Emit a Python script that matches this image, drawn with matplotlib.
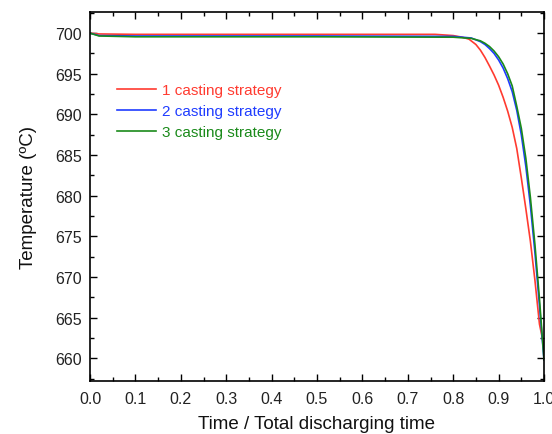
import matplotlib
matplotlib.use("Agg")
import matplotlib.pyplot as plt
from matplotlib.ticker import MultipleLocator

plt.rcParams["font.family"] = ["Liberation Sans", "DejaVu Sans"]

x_red = [0.0, 0.02, 0.1, 0.3, 0.5, 0.7, 0.76, 0.8, 0.82, 0.835, 0.85, 0.86, 0.87, 0.88, 0.89, 0.9,
         0.91, 0.92, 0.93, 0.94, 0.95, 0.96, 0.97, 0.98, 0.99, 1.0]
t_red = [700.0, 699.9, 699.85, 699.85, 699.85, 699.85, 699.85, 699.7, 699.5, 699.25, 698.6, 697.9,
         697.0, 695.95, 694.85, 693.6, 692.1, 690.4, 688.4, 685.8, 682.2, 678.4, 674.4, 669.6, 664.2, 661.5]

x_blue = [0.0, 0.02, 0.1, 0.5, 0.8, 0.84, 0.86, 0.87, 0.88, 0.89, 0.9, 0.91, 0.92, 0.93, 0.94,
          0.95, 0.96, 0.97, 0.98, 0.99, 1.0]
t_blue = [700.0, 699.7, 699.65, 699.65, 699.6, 699.4, 698.95, 698.6, 698.1, 697.5, 696.7, 695.7,
          694.4, 692.8, 690.5, 687.5, 683.6, 678.8, 673.0, 666.5, 659.8]

x_green = [0.0, 0.02, 0.1, 0.5, 0.8, 0.84, 0.86, 0.87, 0.88, 0.89, 0.9, 0.91, 0.92, 0.93, 0.94,
           0.95, 0.96, 0.97, 0.98, 0.99, 1.0]
t_green = [700.0, 699.65, 699.55, 699.55, 699.5, 699.35, 699.05, 698.75, 698.35, 697.8, 697.1, 696.2,
           695.0, 693.5, 691.0, 688.3, 684.6, 679.8, 674.0, 667.3, 659.8]

labels = ["1 casting strategy", "2 casting strategy", "3 casting strategy"]
colors = ["#ff3b30", "#1f3cff", "#1a8a1a"]

fig = plt.figure(figsize=(5.52, 4.35), dpi=100)
ax = fig.add_axes([90/552, (435-382)/435, 454/552, 369/435])

ax.plot(x_red, t_red, color=colors[0], lw=1.2, label=labels[0])
ax.plot(x_blue, t_blue, color=colors[1], lw=1.2, label=labels[1])
ax.plot(x_green, t_green, color=colors[2], lw=1.2, label=labels[2])

ax.set_xlim(0.0, 1.0)
ax.set_ylim(657.2, 702.6)
ax.xaxis.set_major_locator(MultipleLocator(0.1))
ax.xaxis.set_minor_locator(MultipleLocator(0.05))
ax.yaxis.set_major_locator(MultipleLocator(5))
ax.yaxis.set_minor_locator(MultipleLocator(2.5))
ax.tick_params(which="both", direction="in", top=True, right=True, labelsize=11.5,
               width=1, labelcolor="#222222")
ax.tick_params(which="major", length=5)
ax.tick_params(which="minor", length=3)
ax.tick_params(axis="x", which="major", pad=7)
ax.tick_params(axis="y", which="major", pad=6)
ax.set_xticks([i/10 for i in range(11)])
ax.set_xticklabels([f"{i/10:.1f}" for i in range(11)])
for s in ax.spines.values():
    s.set_linewidth(1.2)

ax.set_xlabel("Time / Total discharging time", fontsize=13.5, labelpad=7, color="#111111")
ax.set_ylabel("Temperature (ºC)", fontsize=13.5, labelpad=13, color="#111111")

ax.legend(loc="upper left", bbox_to_anchor=(0.03, 0.844), frameon=False, fontsize=11,
          labelcolor="linecolor", handlelength=2.5, handletextpad=0.4, labelspacing=0.45)

fig.savefig("out.png", dpi=100)
